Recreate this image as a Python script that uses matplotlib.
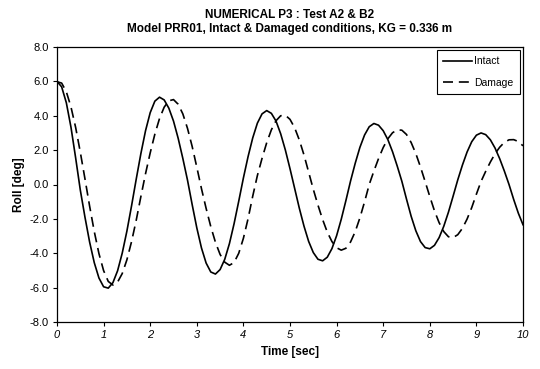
import matplotlib
matplotlib.use("Agg")
import matplotlib.pyplot as plt
from matplotlib.ticker import FormatStrFormatter

plt.rcParams['font.family'] = ['Liberation Sans', 'DejaVu Sans']

time_sec = [round(i * 0.1, 1) for i in range(101)]

roll_intact = [
    6.00, 5.68, 4.76, 3.33, 1.55, -0.32, -1.90, -3.35, -4.55, -5.44,
    -5.95, -6.03, -5.71, -5.02, -3.99, -2.71, -1.24, 0.31, 1.80, 3.13,
    4.18, 4.85, 5.08, 4.92, 4.44, 3.69, 2.69, 1.52, 0.26, -1.16,
    -2.52, -3.69, -4.57, -5.09, -5.21, -4.95, -4.35, -3.44, -2.28, -0.97,
    0.38, 1.62, 2.71, 3.57, 4.11, 4.30, 4.14, 3.69, 2.95, 2.01,
    0.92, -0.23, -1.38, -2.42, -3.31, -3.96, -4.35, -4.44, -4.23, -3.73,
    -2.98, -2.02, -0.93, 0.21, 1.24, 2.16, 2.88, 3.36, 3.55, 3.45,
    3.13, 2.61, 1.91, 1.08, 0.19, -0.85, -1.85, -2.69, -3.32, -3.67,
    -3.74, -3.54, -3.09, -2.43, -1.61, -0.68, 0.27, 1.13, 1.89, 2.49,
    2.87, 3.00, 2.90, 2.60, 2.12, 1.50, 0.78, 0.00, -0.87, -1.67,
    -2.34,
]

roll_damage = [
    5.98, 5.90, 5.40, 4.51, 3.32, 1.88, 0.33, -1.26, -2.74, -4.02,
    -5.01, -5.64, -5.85, -5.68, -5.18, -4.38, -3.32, -2.08, -0.70, 0.63,
    1.84, 2.93, 3.84, 4.50, 4.87, 4.94, 4.67, 4.11, 3.27, 2.22,
    1.01, -0.24, -1.39, -2.45, -3.36, -4.07, -4.52, -4.70, -4.54, -4.00,
    -3.13, -1.99, -0.68, 0.52, 1.52, 2.43, 3.18, 3.71, 4.00, 4.03,
    3.79, 3.30, 2.59, 1.72, 0.72, -0.28, -1.20, -2.04, -2.77, -3.32,
    -3.68, -3.82, -3.71, -3.34, -2.74, -1.94, -1.01, 0.00, 0.78, 1.51,
    2.15, 2.66, 3.01, 3.18, 3.16, 2.91, 2.44, 1.80, 1.02, 0.17,
    -0.70, -1.53, -2.22, -2.74, -3.04, -3.09, -2.92, -2.55, -2.01, -1.34,
    -0.56, 0.18, 0.77, 1.31, 1.79, 2.17, 2.45, 2.60, 2.61, 2.50,
    2.25,
]

x_ticks = list(range(0, 11))
y_ticks = [-8.0, -6.0, -4.0, -2.0, 0.0, 2.0, 4.0, 6.0, 8.0]
series_labels = ["Intact", "Damage"]

fig = plt.figure(figsize=(5.4, 3.69), dpi=100)
ax = fig.add_axes([57 / 540, 1 - 322 / 369, (523 - 57) / 540, (322 - 47) / 369])

ax.plot(time_sec, roll_intact, color='black', lw=1.2, label=series_labels[0])
ax.plot(time_sec, roll_damage, color='black', lw=1.2, dashes=(6, 3.5), label=series_labels[1])

ax.set_xlim(0, 10)
ax.set_ylim(-8, 8)
ax.set_xticks(x_ticks)
ax.set_yticks(y_ticks)
ax.yaxis.set_major_formatter(FormatStrFormatter('%.1f'))
ax.tick_params(direction='out', length=3, width=0.8, labelsize=8, pad=3, colors='black')
for lab in ax.get_xticklabels():
    lab.set_fontstyle('italic')
for s in ax.spines.values():
    s.set_linewidth(0.9)
    s.set_color('black')

ax.set_xlabel("Time [sec]", fontsize=8.5, fontweight='bold', labelpad=4)
ax.set_ylabel("Roll [deg]", fontsize=8.5, fontweight='bold', labelpad=3)

fig.text(0.537, 1 - 15 / 369, "NUMERICAL P3 : Test A2 & B2", ha='center', va='center',
         fontsize=8.5, fontweight='bold')
fig.text(0.537, 1 - 29 / 369, "Model PRR01, Intact & Damaged conditions, KG = 0.336 m", ha='center',
         va='center', fontsize=8.5, fontweight='bold')

leg = ax.legend(loc='upper right', fontsize=7.5, frameon=True, fancybox=False, edgecolor='black',
                framealpha=1, handlelength=2.8, borderaxespad=0.3, labelspacing=1.1,
                handletextpad=0.2, borderpad=0.6)
leg.get_frame().set_linewidth(0.8)

fig.savefig("out.png", dpi=100, facecolor='white')
